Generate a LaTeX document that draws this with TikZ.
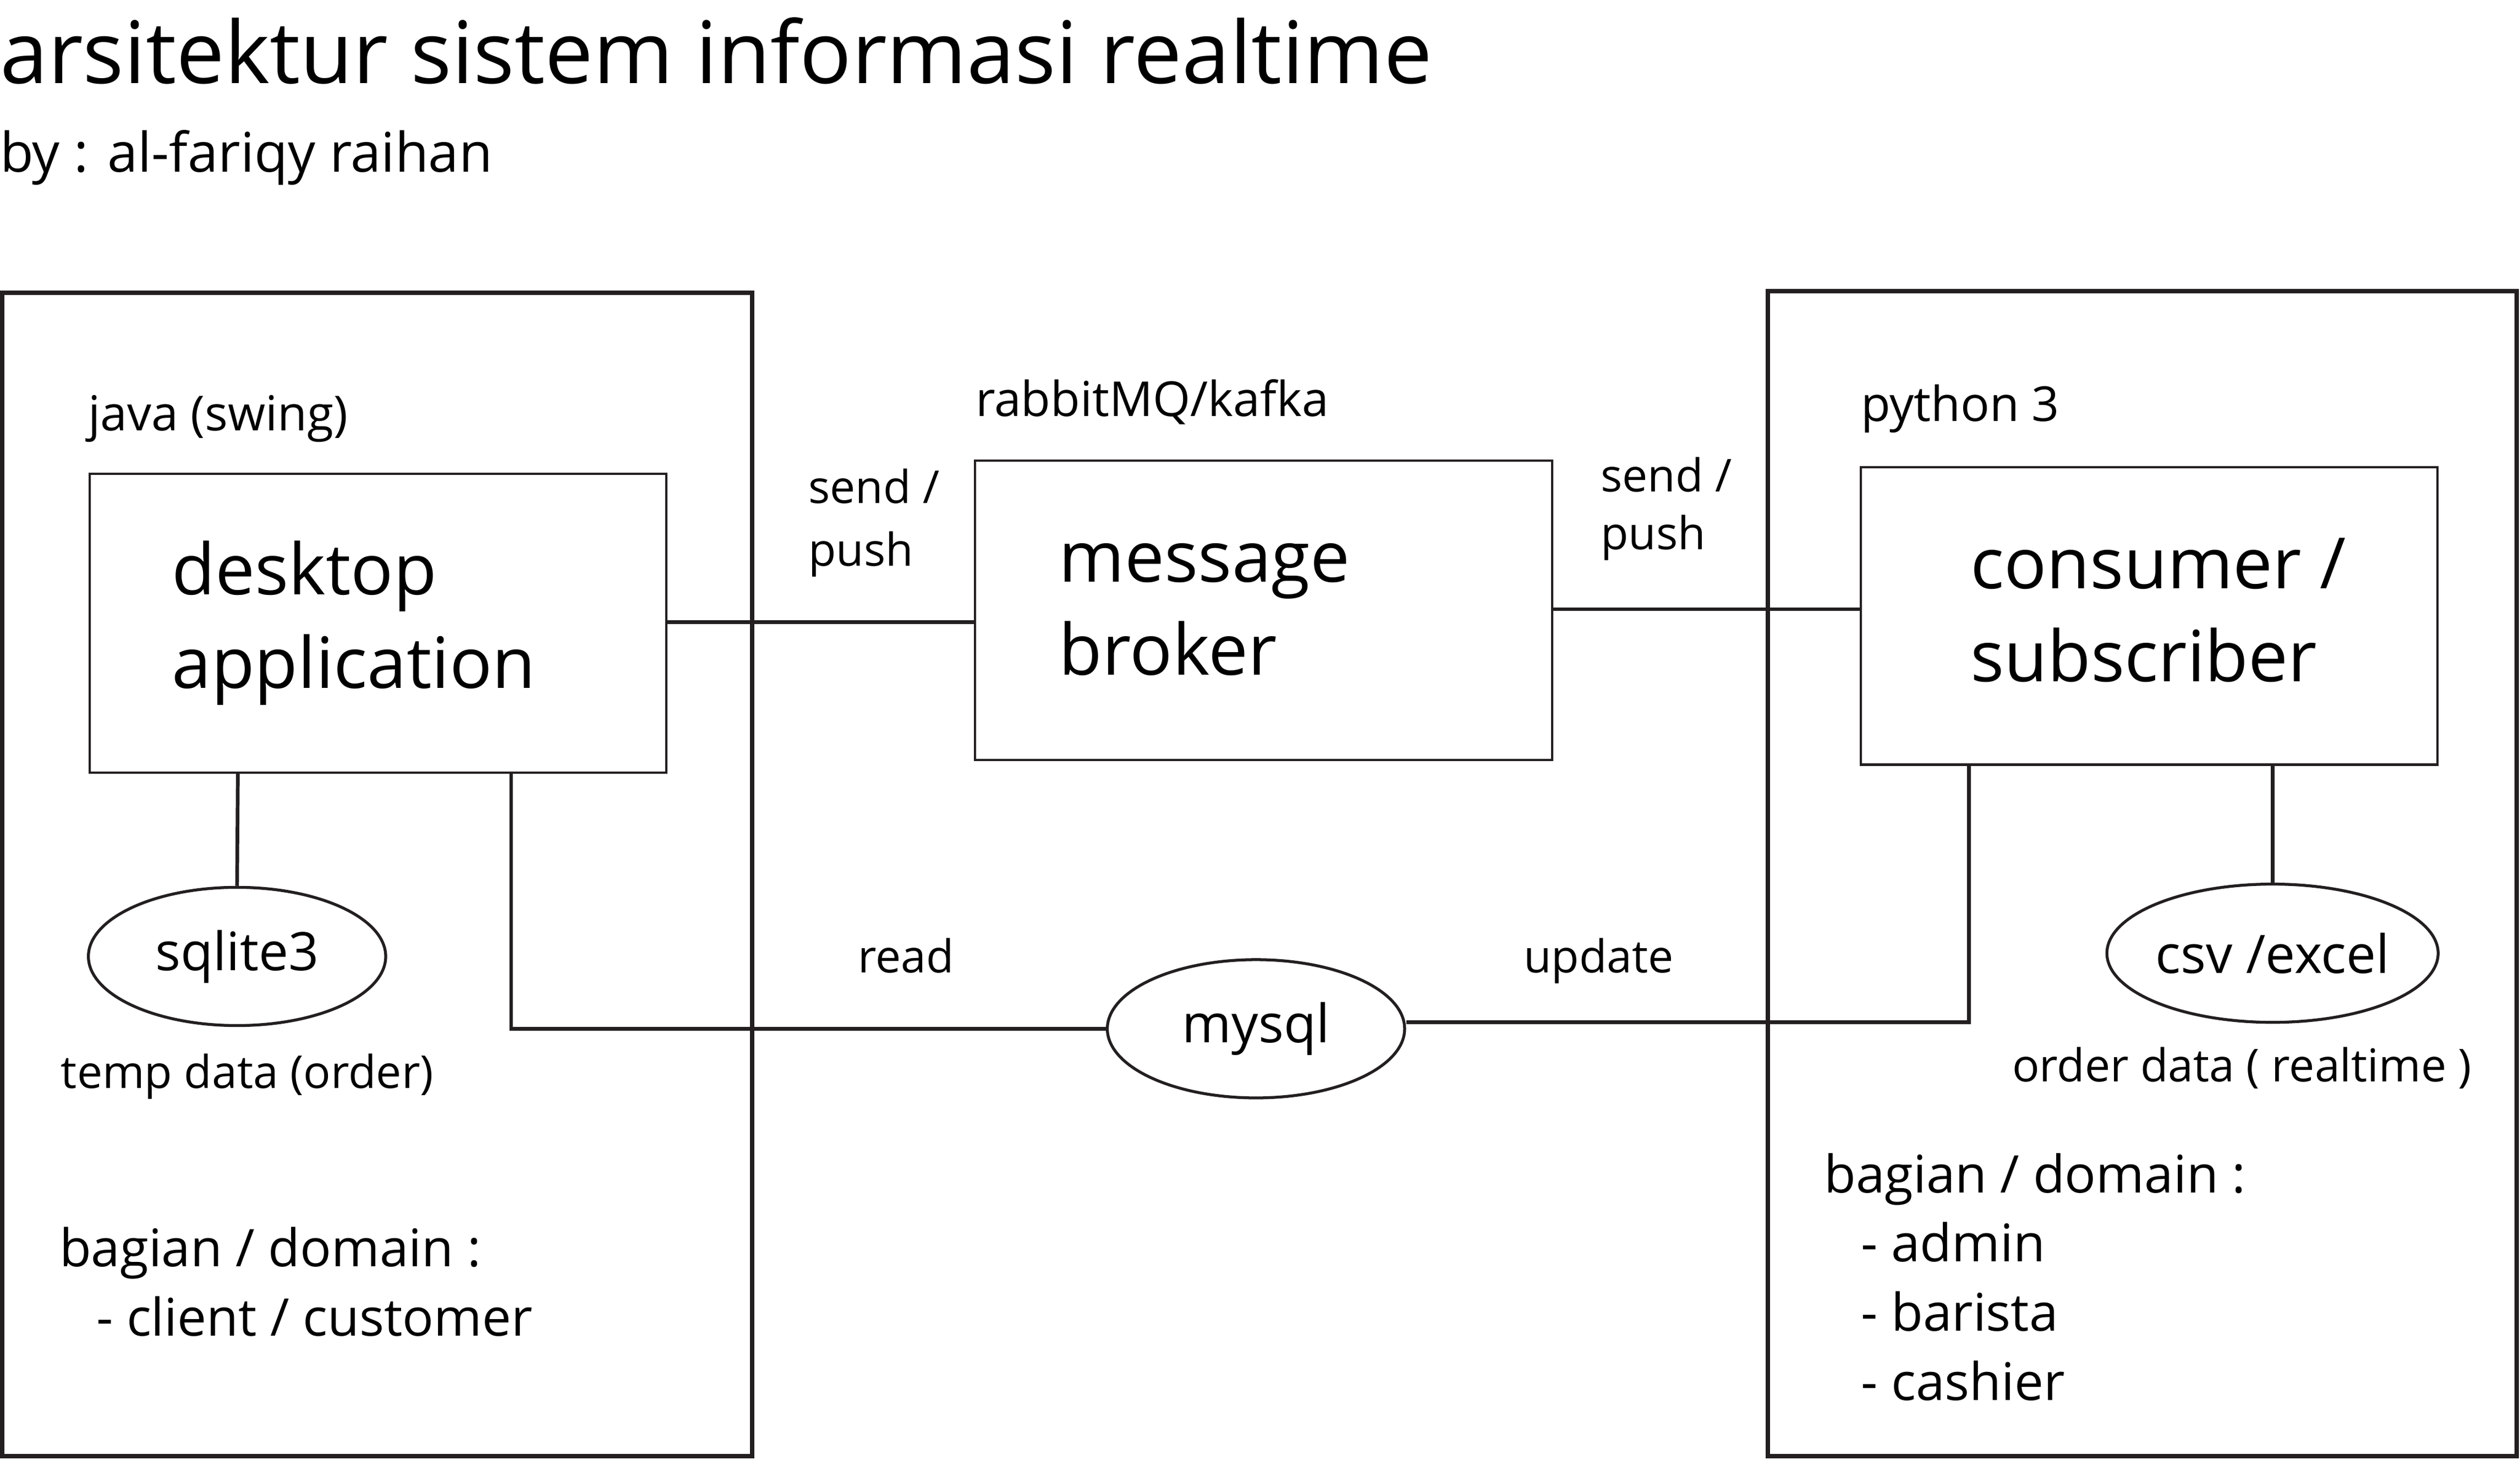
\documentclass[tikz,border=0pt]{standalone}
\usepackage{fontspec}
\setmainfont{Open Sans}
\usetikzlibrary{shapes.geometric}
\definecolor{ink}{HTML}{231F20}
\tikzset{
  outer/.style={draw=ink,line width=2.7pt},
  inner/.style={draw=ink,line width=1.4pt},
  conn/.style={draw=ink,line width=2.3pt},
  dbell/.style={ellipse,draw=ink,line width=1.8pt,minimum width=185pt,minimum height=86pt,inner sep=0pt,font=\fontsize{33}{33}\selectfont},
  txt/.style={inner sep=0pt,outer sep=0pt,anchor=base west,text=black},
  ttl/.style={txt,font=\fontsize{53.6}{54}\selectfont},
  sub/.style={txt,font=\fontsize{34}{34}\selectfont},
  lbl/.style={txt,font=\fontsize{30}{30}\selectfont},
  slbl/.style={txt,font=\fontsize{28.2}{28}\selectfont},
  big/.style={txt,font=\fontsize{44}{44}\selectfont},
  dom/.style={txt,font=\fontsize{32.3}{32}\selectfont},
}
\begin{document}
\begin{tikzpicture}[x=1pt,y=-1pt]
\useasboundingbox (0,0) rectangle (1568,908);
% outer frames
\draw[outer] (1.3,182) rectangle (468,906);
\draw[outer] (1100,181) rectangle (1566,906);
% boxes
\node[inner,minimum width=359pt,minimum height=186pt,inner sep=0pt,anchor=north west] (desk) at (55,294) {};
\node[inner,minimum width=359pt,minimum height=186pt,inner sep=0pt,anchor=north west] (broker) at (606,286) {};
\node[inner,minimum width=359pt,minimum height=185pt,inner sep=0pt,anchor=north west] (cons) at (1157,290) {};
% ellipses
\node[dbell] (sqlite) at (147.5,595) {sqlite3};
\node[dbell] (mysql) at (781.5,640) {mysql};
\node[dbell] (csv) at (1414,593) {csv /excel};
% connectors
\draw[conn] (desk.east |- 0,387) -- (broker.west |- 0,387);
\draw[conn] (broker.east |- 0,379) -- (cons.west |- 0,379);
\draw[conn] (desk.south -| 148,0) -- (sqlite.north);
\draw[conn] (desk.south -| 318,0) |- (mysql.west);
\draw[conn] (mysql.east |- 0,636) -| (cons.south -| 1225,0);
\draw[conn] (cons.south -| 1414,0) -- (csv.north);
% titles
\node[ttl] (title) at (0,52) {arsitektur sistem informasi realtime};
\node[sub] (by) at (0,107) {by : al-fariqy raihan};
% labels
\node[lbl] (java) at (55,268) {java (swing)};
\node[big] (d1) at (107,370) {desktop};
\node[big] (d2) at (107,428) {application};
\node[lbl] (rabbit) at (607,259) {rabbitMQ/kafka};
\node[slbl] (s1a) at (503,313) {send /};
\node[slbl] (s1b) at (503,352) {push};
\node[big] (m1) at (659,362) {message};
\node[big] (m2) at (659,420) {broker};
\node[slbl] (s2a) at (996,306) {send /};
\node[slbl] (s2b) at (996,342) {push};
\node[lbl] (py) at (1158,262) {python 3};
\node[big] (c1) at (1226,366) {consumer /};
\node[big] (c2) at (1226,424) {subscriber};
\node[slbl] (temp) at (38,677) {temp data (order)};
\node[slbl] (read) at (534,605) {read};
\node[slbl] (upd) at (948,605) {update};
\node[slbl] (ord) at (1252,673) {order data ( realtime )};
\node[dom] (bl1) at (37,788) {bagian / domain :};
\node[dom] (bl2) at (60,831) {- client / customer};
\node[dom] (br1) at (1135,742) {bagian / domain :};
\node[dom] (br2) at (1158,785) {- admin};
\node[dom] (br3) at (1158,828) {- barista};
\node[dom] (br4) at (1158,871) {- cashier};
\end{tikzpicture}
\end{document}
